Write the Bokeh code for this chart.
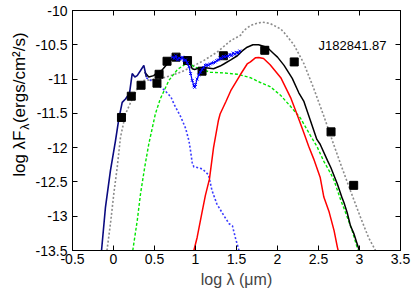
import math
from bokeh.plotting import figure
from bokeh.layouts import row
from bokeh.models import (Label, LinearAxis, FixedTicker, CustomJSTickFormatter, Range1d)
from bokeh.embed import file_html
from bokeh.resources import INLINE

# ---------------- data (log wavelength [um], log lambda F_lambda) ----------------
phot_logl = [0.097, 0.217, 0.336, 0.530, 0.556, 0.653, 0.763, 0.903, 1.080, 1.340, 1.845, 2.204, 2.653, 2.929]
phot_logf = [-11.56, -11.25, -11.09, -11.06, -10.93, -10.74, -10.68, -10.73, -10.885, -10.66, -10.58, -10.75, -11.77, -12.55]
phot_err  = [0, 0, 0, 0, 0, 0, 0, 0, 0, 0, 0.05, 0, 0, 0]

irs_logl = [0.72, 0.74, 0.76, 0.78, 0.80, 0.82, 0.84, 0.86, 0.88, 0.90, 0.92, 0.94, 0.96, 0.98, 0.99,
            1.00, 1.02, 1.04, 1.06, 1.08, 1.10, 1.12, 1.14, 1.16, 1.18, 1.20, 1.22, 1.24, 1.26, 1.28,
            1.30, 1.32, 1.34, 1.36, 1.38, 1.40, 1.42, 1.44, 1.46, 1.48, 1.50, 1.52, 1.54]
irs_logf = [-10.68, -10.70, -10.66, -10.72, -10.69, -10.71, -10.68, -10.73, -10.72, -10.76, -10.82, -10.92, -11.02, -11.10, -11.12,
            -11.08, -11.00, -10.94, -10.90, -10.86, -10.83, -10.80, -10.79, -10.80, -10.78, -10.77, -10.76, -10.75, -10.73, -10.72,
            -10.69, -10.70, -10.67, -10.68, -10.66, -10.67, -10.64, -10.66, -10.62, -10.64, -10.61, -10.62, -10.59]

model_logl = [-0.08, -0.037, 0.004, 0.045, 0.085, 0.146, 0.228, 0.31, 0.37, 0.47, 0.59, 0.695, 0.82, 0.94, 1.10,
              1.26, 1.43, 1.55, 1.59, 1.67, 1.75, 1.82, 1.91, 2.04, 2.08, 2.20, 2.32, 2.44, 2.565, 2.69,
              2.77, 2.89, 3.01, 3.11, 3.195]
model_logf = [-13.5, -13.11, -12.67, -12.29, -11.85, -11.51, -11.29, -11.09, -11.02, -11.01, -10.99, -10.95, -10.90, -10.83, -10.73,
              -10.61, -10.44, -10.36, -10.29, -10.22, -10.185, -10.17, -10.19, -10.27, -10.32, -10.50, -10.77, -11.13, -11.54, -11.97,
              -12.24, -12.63, -13.01, -13.31, -13.5]

star_logl = [0.40, 0.50, 0.62, 0.70, 0.74, 0.82, 0.88, 0.92, 0.94, 0.96, 0.98, 1.02, 1.08, 1.12, 1.16,
             1.20, 1.26, 1.345, 1.41, 1.45, 1.49, 1.53]
star_logf = [-10.98, -11.05, -11.16, -11.26, -11.37, -11.55, -11.72, -11.90, -12.05, -12.22, -12.28, -12.29, -12.31, -12.35, -12.40,
             -12.62, -12.82, -12.99, -13.11, -13.14, -13.33, -13.5]

disk_logl = [0.235, 0.29, 0.33, 0.38, 0.43, 0.51, 0.57, 0.59, 0.675, 0.78, 0.88, 0.93, 0.98, 1.08, 1.18,
             1.345, 1.51, 1.67, 1.79, 1.91, 2.04, 2.16, 2.28, 2.40, 2.48, 2.565, 2.65, 2.69, 2.77, 2.85,
             2.91, 2.97, 2.99]
disk_logf = [-13.5, -13.06, -12.67, -12.29, -11.95, -11.51, -11.29, -11.24, -11.02, -10.86, -10.78, -10.77, -10.82, -10.86, -10.90,
             -10.91, -10.93, -10.98, -11.05, -11.11, -11.24, -11.40, -11.57, -11.82, -11.98, -12.20, -12.38, -12.48, -12.76, -13.01,
             -13.21, -13.45, -13.5]

env_logl = [0.98, 1.02, 1.08, 1.12, 1.17, 1.22, 1.28, 1.30, 1.37, 1.43, 1.55, 1.63, 1.67, 1.73, 1.77,
            1.83, 1.91, 2.04, 2.16, 2.24, 2.32, 2.38, 2.44, 2.52, 2.565, 2.63, 2.69, 2.73, 2.74]
env_logf = [-13.5, -13.31, -12.94, -12.70, -12.46, -12.0, -11.60, -11.51, -11.33, -11.17, -10.93, -10.78, -10.75, -10.69, -10.685,
            -10.70, -10.79, -10.98, -11.27, -11.52, -11.78, -11.98, -12.16, -12.43, -12.72, -12.94, -13.21, -13.45, -13.5]

total_logl = [0.38, 0.43, 0.49, 0.53, 0.59, 0.655, 0.72, 0.78, 0.88, 0.93, 0.96, 0.99, 1.04, 1.10, 1.22,
              1.30, 1.345, 1.43, 1.51, 1.57, 1.63, 1.70, 1.77, 1.875, 1.955, 2.0, 2.08, 2.18, 2.26, 2.32,
              2.40, 2.48, 2.52, 2.61, 2.65, 2.73, 2.79, 2.81, 2.85, 2.89, 2.93, 2.96, 2.99, 3.0]
total_logf = [-10.90, -10.97, -10.95, -10.91, -10.87, -10.78, -10.70, -10.68, -10.70, -10.76, -10.85, -10.86, -10.84, -10.83, -10.85,
              -10.81, -10.78, -10.72, -10.66, -10.59, -10.535, -10.50, -10.50, -10.54, -10.63, -10.68, -10.80, -10.99, -11.20, -11.32,
              -11.60, -11.88, -11.95, -12.19, -12.29, -12.53, -12.74, -12.80, -12.95, -13.14, -13.25, -13.36, -13.47, -13.5]

nir_logl = [-0.146, -0.098, -0.037, 0.024, 0.065, 0.106, 0.146, 0.195, 0.228, 0.26, 0.289, 0.33, 0.37, 0.40]
nir_logf = [-13.5, -12.87, -12.33, -11.9, -11.58, -11.34, -11.29, -11.21, -10.92, -10.97, -10.95, -10.875, -10.80, -10.97]

x_ticks = [-0.5, 0, 0.5, 1, 1.5, 2, 2.5, 3, 3.5]
y_ticks = [-13.5, -13, -12.5, -12, -11.5, -11, -10.5, -10]
source_name = "J182841.87"

FONT = "Liberation Sans"
FW, FH = 328, 240
LBL_W = 30
B_TOP, B_BOT, B_LEFT, B_RIGHT = 10, 40, 72 - LBL_W, 12
CANVAS_H = B_TOP + FH + B_BOT

p = figure(output_backend="svg", toolbar_location=None,
           frame_width=FW, frame_height=FH,
           x_range=Range1d(-0.5, 3.5), y_range=Range1d(-13.5, -10),
           min_border_left=B_LEFT, min_border_right=B_RIGHT,
           min_border_top=B_TOP, min_border_bottom=B_BOT,
           background_fill_color="white", border_fill_color="white")
p.grid.visible = False
p.outline_line_color = "black"
p.outline_line_width = 1
p.outline_line_alpha = 1

fmt = CustomJSTickFormatter(code="var s = tick.toFixed(1); return s.endsWith('.0') ? s.slice(0, -2) : s;")
blank = CustomJSTickFormatter(code="return '';")

for ax, ticks in ((p.xaxis[0], x_ticks), (p.yaxis[0], y_ticks)):
    ax.ticker = FixedTicker(ticks=ticks)
    ax.formatter = fmt
    ax.major_tick_in = 5
    ax.major_tick_out = 0
    ax.minor_tick_line_color = None
    ax.major_label_text_font = FONT
    ax.major_label_text_font_size = "14px"
    ax.major_label_text_color = "black"
    ax.axis_line_color = "black"
    ax.major_tick_line_color = "black"

p.xaxis.major_label_standoff = 3
p.yaxis.major_label_standoff = 5
p.xaxis.axis_label = "log \u03bb (\u03bcm)"
p.xaxis.axis_label_text_font = FONT
p.xaxis.axis_label_text_font_size = "16px"
p.xaxis.axis_label_text_font_style = "normal"
p.xaxis.axis_label_standoff = 4
p.yaxis.axis_label = None

for side, ticks in (("above", x_ticks), ("right", y_ticks)):
    ax = LinearAxis(ticker=FixedTicker(ticks=ticks), formatter=blank,
                    major_tick_in=5, major_tick_out=0, minor_tick_line_color=None,
                    major_label_standoff=0, major_label_text_font_size="1px",
                    axis_line_color="black", major_tick_line_color="black")
    p.add_layout(ax, side)

# model curves
p.line(model_logl, model_logf, line_color="#8c8c8c", line_width=1.6, line_dash="2 2")
p.line(star_logl, star_logf, line_color="#3a3aff", line_width=1.6, line_dash="2 2")
p.line(disk_logl, disk_logf, line_color="#00e600", line_width=1.4, line_dash="3 2")
p.line(env_logl, env_logf, line_color="#ff0000", line_width=1.5)
p.line(total_logl, total_logf, line_color="black", line_width=1.5)
p.line(nir_logl, nir_logf, line_color="#0a0a80", line_width=1.6)

# photometry
err_lo = [f - e for f, e in zip(phot_logf, phot_err)]
err_hi = [f + e for f, e in zip(phot_logf, phot_err)]
p.segment(phot_logl, err_lo, phot_logl, err_hi, line_color="black", line_width=8)
p.scatter(phot_logl, phot_logf, marker="square", size=8, fill_color="black", line_color="black")

# spectrum
p.line(irs_logl, irs_logf, line_color="blue", line_width=1.2)
p.scatter(irs_logl, irs_logf, marker="x", size=4, line_color="blue", line_width=1)

p.add_layout(Label(x=2.5, y=-10.51, text=source_name, text_font=FONT, text_font_size="13px",
                   text_baseline="middle", text_align="left", text_color="black"))

# ---- narrow companion canvas holding the rotated y-axis title (with subscript) ----
q = figure(output_backend="svg", toolbar_location=None, width=LBL_W, height=CANVAS_H,
           x_range=Range1d(0, LBL_W), y_range=Range1d(0, CANVAS_H),
           min_border=0, outline_line_color=None,
           background_fill_color="white", border_fill_color="white")
q.axis.visible = False
q.grid.visible = False

ang = math.pi / 2
fs = 17
cx = 19
y_f_end = CANVAS_H - 145      # where "log λF" ends (its top)
y_sub = CANVAS_H - 144        # start of the subscript
y_rest = CANVAS_H - 136       # start of "(ergs/cm²/s)"
pieces = [("log \u03bbF", 0, y_f_end, fs, "right"),
          ("\u03bb", 5, y_sub, 12, "left"),
          ("(ergs/cm\u00b2/s)", 0, y_rest, fs, "left")]
for txt, dx, yy, size, align in pieces:
    q.add_layout(Label(x=cx + dx, y=yy, angle=ang,
                       text=txt, text_font=FONT, text_font_size=f"{size}px",
                       text_baseline="middle", text_align=align, text_color="black"))

layout = row(q, p, spacing=0)
open("out.html", "w").write(file_html(layout, INLINE))
